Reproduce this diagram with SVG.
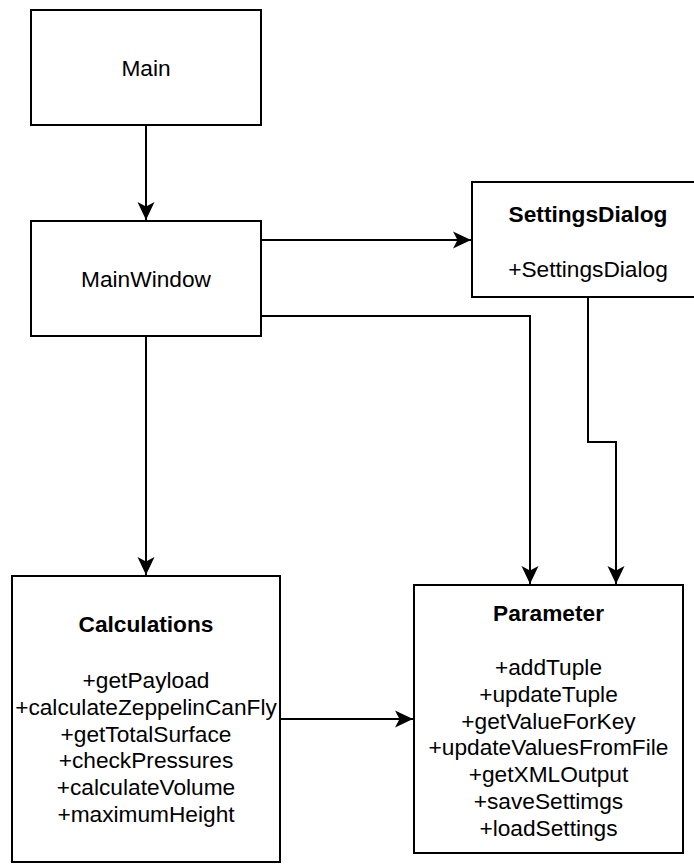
<svg xmlns="http://www.w3.org/2000/svg" width="694" height="864" viewBox="0 0 694 864">
<style>
.box{fill:#fff;stroke:#000;stroke-width:2}
.edge{fill:none;stroke:#000;stroke-width:2}
text{font-family:"Liberation Sans",Arial,Helvetica,sans-serif;font-size:22.7px;fill:#000;text-anchor:middle}
.b{font-weight:bold}
</style>
<defs>
<marker id="arr" markerUnits="userSpaceOnUse" viewBox="0 0 18 18" markerWidth="18" markerHeight="18" refX="18" refY="9" orient="auto">
<path d="M18,9 L0,0.5 L4.5,9 L0,17.5 Z" fill="#000"/>
</marker>
</defs>
<rect width="694" height="864" fill="#fff"/>
<g id="connectors">
<path class="edge" d="M146,125 V220" marker-end="url(#arr)"/>
<path class="edge" d="M261,240 H471" marker-end="url(#arr)"/>
<path class="edge" d="M261,316 H530 V584" marker-end="url(#arr)"/>
<path class="edge" d="M588,297 V442 H616 V584" marker-end="url(#arr)"/>
<path class="edge" d="M146,336 V575" marker-end="url(#arr)"/>
<path class="edge" d="M280,719 H413" marker-end="url(#arr)"/>
</g>
<g id="main">
<rect class="box" x="31" y="10" width="230" height="115"/>
<text x="146" y="76">Main</text>
</g>
<g id="mainwindow">
<rect class="box" x="31" y="221" width="230" height="115"/>
<text x="146" y="287">MainWindow</text>
</g>
<g id="settingsdialog">
<rect class="box" x="472" y="182" width="232" height="115"/>
<text class="b" x="588" y="222">SettingsDialog</text>
<text x="588" y="277">+SettingsDialog</text>
</g>
<g id="calculations">
<rect class="box" x="12" y="576" width="268" height="286"/>
<text class="b" x="146" y="632">Calculations</text>
<text x="146" y="688.3">+getPayload</text>
<text x="146" y="715">+calculateZeppelinCanFly</text>
<text x="146" y="741.7">+getTotalSurface</text>
<text x="146" y="768.3">+checkPressures</text>
<text x="146" y="795">+calculateVolume</text>
<text x="146" y="821.7">+maximumHeight</text>
</g>
<g id="parameter">
<rect class="box" x="414" y="585" width="269" height="268"/>
<text class="b" x="548.5" y="621">Parameter</text>
<text x="548.5" y="675">+addTuple</text>
<text x="548.5" y="701.8">+updateTuple</text>
<text x="548.5" y="728.6">+getValueForKey</text>
<text x="548.5" y="755.4">+updateValuesFromFile</text>
<text x="548.5" y="782.2">+getXMLOutput</text>
<text x="548.5" y="809">+saveSettimgs</text>
<text x="548.5" y="835.8">+loadSettings</text>
</g>
</svg>
